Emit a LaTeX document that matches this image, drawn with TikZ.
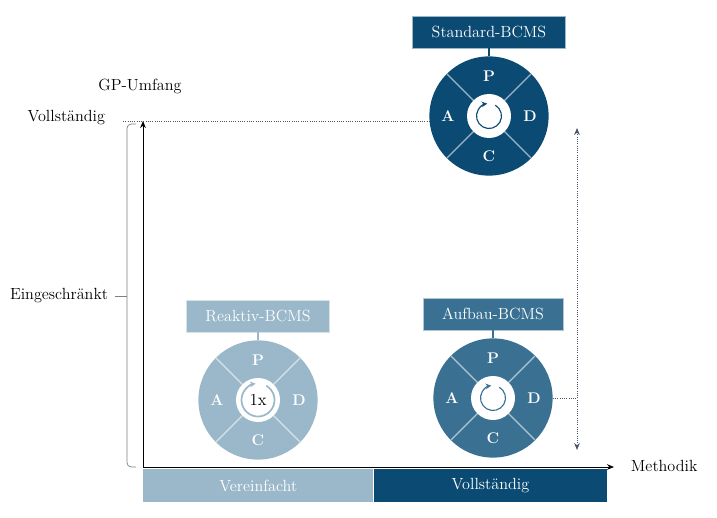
\documentclass[tikz,border=0pt]{standalone}
\usetikzlibrary{positioning, arrows.meta}
\definecolor{bcmsdark}{HTML}{0B4A72}
\definecolor{bcmsmid}{HTML}{3A7193}
\definecolor{bcmslight}{HTML}{9BB8CA}
\definecolor{guidegray}{HTML}{4A5568}
\begin{document}
\begin{tikzpicture}[x=0.025cm, y=-0.025cm, font=\fontsize{11.5}{13}\selectfont,
    labelbox/.style={rectangle, fill=#1, draw=white!60!#1, text=white, inner xsep=0.48cm, minimum height=0.8cm},
    cyclefill/.style={circle, fill=#1, inner sep=0pt, minimum size=2.98cm},
    divider/.style={white, opacity=0.6, line width=0.8pt},
    letter/.style={text=white, font=\fontsize{11}{13}\selectfont\bfseries},
    guide/.style={guidegray, densely dotted, line width=0.6pt},
    axis/.style={black, line width=0.7pt, -{Stealth[length=5pt, width=4pt]}},
    barbox/.style={rectangle, anchor=north west, text=white, inner sep=0pt, minimum height=0.83cm}]
    \useasboundingbox (0,0) rectangle (717,518);

    \foreach \name/\px/\py/\col/\txt in {std/489/116/bcmsdark/Standard-BCMS, auf/493/398/bcmsmid/Aufbau-BCMS, rea/258/400/bcmslight/Reaktiv-BCMS} {
        \node[cyclefill=\col] (\name) at (\px, \py) {};
        \fill[white] (\name) circle[radius=22];
        \foreach \a in {45, 135, 225, 315}
            \draw[divider] (\name) ++(\a:22) -- ++(\a:37.5);
        \path (\name) ++(0, -40) node[letter] {P};
        \path (\name) ++(41, 0) node[letter] {D};
        \path (\name) ++(0, 40) node[letter] {C};
        \path (\name) ++(-41, 0) node[letter] {A};
        \node[labelbox=\col, above=0.2cm of \name] (\name box) {\txt};
        \draw[\col, line width=0.8pt] (\name box) -- (\name);
    }

    \draw[bcmsdark, line width=0.8pt, -{Stealth[length=4pt, width=4pt]}] (std) ++(-60:12.5) arc[start angle=-60, end angle=262, radius=12.5];
    \draw[bcmsmid, line width=0.8pt, -{Stealth[length=4pt, width=4pt]}] (auf) ++(-60:12.5) arc[start angle=-60, end angle=262, radius=12.5];
    \draw[bcmslight, line width=1.2pt, -{Stealth[length=4pt, width=4pt]}] (rea) ++(-60:16.5) arc[start angle=-60, end angle=262, radius=16.5];
    \node[font=\fontsize{12}{14}\selectfont] (once) at (rea) {1x};

    \coordinate (o) at (143, 467);
    \coordinate (ytop) at (143, 121);
    \coordinate (xend) at (614, 467);
    \draw[axis] (o) -- (ytop);
    \draw[axis] (o) -- (xend);

    \node (gp) at (140, 86) {GP-Umfang};
    \node[anchor=east] (yfull) at (110, 118) {Vollständig};
    \node[anchor=east] (ylim) at (113, 296) {Eingeschränkt};
    \node[anchor=west] (meth) at (626, 466) {Methodik};

    \node[barbox, fill=bcmslight, minimum width=5.75cm] (simple) at (143, 469) {Vereinfacht};
    \node[barbox, fill=bcmsdark, minimum width=5.825cm] (full) at (simple.north east) {Vollständig};

    \coordinate (btop) at (136, 124);
    \coordinate (bbot) at (136, 467);
    \coordinate (btip) at (115, 296);
    \coordinate (bmid) at (127, 296);
    \draw[gray, line width=0.5pt, rounded corners=3pt] (btop) -- (127, 124) -- (127, 467) -- (bbot);
    \draw[gray, line width=0.5pt] (btip) -- (bmid);

    \coordinate (vfull) at (123, 121);
    \draw[guide] (vfull) -- (vfull -| std.west);

    \coordinate (rtop) at (577, 128);
    \coordinate (rbot) at (577, 450);
    \draw[guide, {Stealth[length=5pt, width=4pt]}-{Stealth[length=5pt, width=4pt]}] (rbot) -- (rtop);
    \draw[guide] (auf.east) -- (auf.east -| rtop);
\end{tikzpicture}
\end{document}
